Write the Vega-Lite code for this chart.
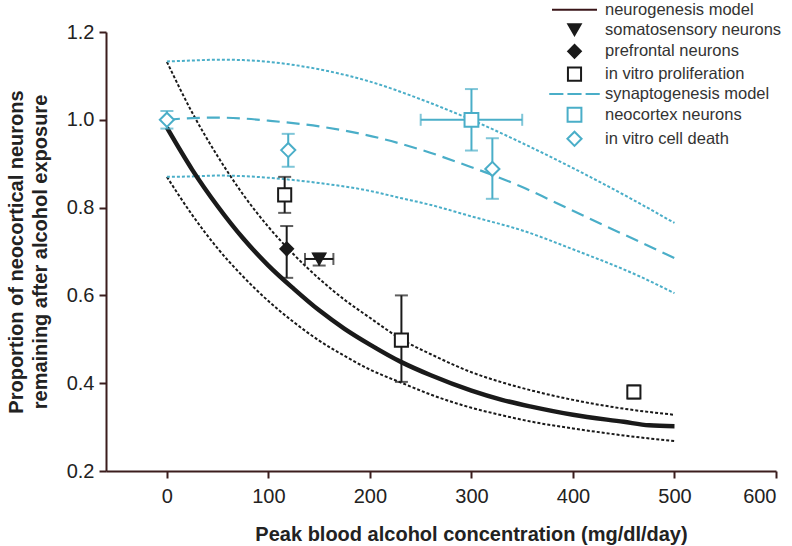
{
  "$schema": "https://vega.github.io/schema/vega-lite/v6.json",
  "width": 670,
  "height": 439,
  "autosize": {"type": "none"},
  "padding": {"left": 106, "top": 32, "right": 16, "bottom": 75},
  "background": "white",
  "config": {
    "view": {"stroke": null},
    "font": "Liberation Sans",
    "axis": {
      "grid": false,
      "domainColor": "#3b1d1d",
      "domainWidth": 2,
      "tickColor": "#3b1d1d",
      "tickWidth": 2,
      "tickSize": 7,
      "labelFont": "Liberation Sans",
      "labelFontSize": 20,
      "labelColor": "#222222",
      "titleFont": "Liberation Sans",
      "titleFontSize": 20,
      "titleFontWeight": "bold",
      "titleColor": "#222222"
    },
    "axisX": {"labelPadding": 8, "titlePadding": 18, "titleX": 365},
    "axisY": {"labelPadding": 5, "titlePadding": 16, "titleLineHeight": 24},
    "legend": {
      "padding": 0,
      "labelFont": "Liberation Sans",
      "labelFontSize": 16.5,
      "labelColor": "#333333",
      "labelOffset": 22,
      "labelLimit": 400,
      "rowPadding": 0.8,
      "symbolStrokeWidth": 2
    }
  },
  "datasets": {
    "curves": [
      {"curve": "neurogenesis", "x": 0, "y": 0.982},
      {"curve": "neurogenesis", "x": 25, "y": 0.886},
      {"curve": "neurogenesis", "x": 50, "y": 0.803},
      {"curve": "neurogenesis", "x": 75, "y": 0.73},
      {"curve": "neurogenesis", "x": 100, "y": 0.668},
      {"curve": "neurogenesis", "x": 125, "y": 0.615},
      {"curve": "neurogenesis", "x": 150, "y": 0.566},
      {"curve": "neurogenesis", "x": 175, "y": 0.524},
      {"curve": "neurogenesis", "x": 200, "y": 0.488},
      {"curve": "neurogenesis", "x": 231, "y": 0.448},
      {"curve": "neurogenesis", "x": 260, "y": 0.418},
      {"curve": "neurogenesis", "x": 300, "y": 0.383},
      {"curve": "neurogenesis", "x": 330, "y": 0.362},
      {"curve": "neurogenesis", "x": 360, "y": 0.346},
      {"curve": "neurogenesis", "x": 400, "y": 0.328},
      {"curve": "neurogenesis", "x": 450, "y": 0.312},
      {"curve": "neurogenesis", "x": 475, "y": 0.304},
      {"curve": "neurogenesis", "x": 500, "y": 0.302},
      {"curve": "neurogenesis upper", "x": 0, "y": 1.132},
      {"curve": "neurogenesis upper", "x": 25, "y": 1.016},
      {"curve": "neurogenesis upper", "x": 50, "y": 0.917},
      {"curve": "neurogenesis upper", "x": 75, "y": 0.83},
      {"curve": "neurogenesis upper", "x": 100, "y": 0.756},
      {"curve": "neurogenesis upper", "x": 125, "y": 0.693},
      {"curve": "neurogenesis upper", "x": 150, "y": 0.638},
      {"curve": "neurogenesis upper", "x": 175, "y": 0.59},
      {"curve": "neurogenesis upper", "x": 200, "y": 0.549},
      {"curve": "neurogenesis upper", "x": 231, "y": 0.5},
      {"curve": "neurogenesis upper", "x": 260, "y": 0.466},
      {"curve": "neurogenesis upper", "x": 300, "y": 0.425},
      {"curve": "neurogenesis upper", "x": 330, "y": 0.402},
      {"curve": "neurogenesis upper", "x": 360, "y": 0.383},
      {"curve": "neurogenesis upper", "x": 400, "y": 0.362},
      {"curve": "neurogenesis upper", "x": 450, "y": 0.342},
      {"curve": "neurogenesis upper", "x": 500, "y": 0.328},
      {"curve": "neurogenesis lower", "x": 0, "y": 0.87},
      {"curve": "neurogenesis lower", "x": 25, "y": 0.783},
      {"curve": "neurogenesis lower", "x": 50, "y": 0.707},
      {"curve": "neurogenesis lower", "x": 75, "y": 0.643},
      {"curve": "neurogenesis lower", "x": 100, "y": 0.587},
      {"curve": "neurogenesis lower", "x": 125, "y": 0.539},
      {"curve": "neurogenesis lower", "x": 150, "y": 0.497},
      {"curve": "neurogenesis lower", "x": 175, "y": 0.462},
      {"curve": "neurogenesis lower", "x": 200, "y": 0.431},
      {"curve": "neurogenesis lower", "x": 231, "y": 0.401},
      {"curve": "neurogenesis lower", "x": 260, "y": 0.374},
      {"curve": "neurogenesis lower", "x": 300, "y": 0.344},
      {"curve": "neurogenesis lower", "x": 330, "y": 0.327},
      {"curve": "neurogenesis lower", "x": 360, "y": 0.312},
      {"curve": "neurogenesis lower", "x": 400, "y": 0.297},
      {"curve": "neurogenesis lower", "x": 450, "y": 0.281},
      {"curve": "neurogenesis lower", "x": 500, "y": 0.268},
      {"curve": "synaptogenesis", "x": 0, "y": 1.0},
      {"curve": "synaptogenesis", "x": 25, "y": 1.004},
      {"curve": "synaptogenesis", "x": 50, "y": 1.005},
      {"curve": "synaptogenesis", "x": 75, "y": 1.003},
      {"curve": "synaptogenesis", "x": 100, "y": 0.998},
      {"curve": "synaptogenesis", "x": 150, "y": 0.985},
      {"curve": "synaptogenesis", "x": 210, "y": 0.958},
      {"curve": "synaptogenesis", "x": 250, "y": 0.932},
      {"curve": "synaptogenesis", "x": 300, "y": 0.892},
      {"curve": "synaptogenesis", "x": 320, "y": 0.875},
      {"curve": "synaptogenesis", "x": 350, "y": 0.847},
      {"curve": "synaptogenesis", "x": 377, "y": 0.818},
      {"curve": "synaptogenesis", "x": 400, "y": 0.793},
      {"curve": "synaptogenesis", "x": 430, "y": 0.76},
      {"curve": "synaptogenesis", "x": 466, "y": 0.722},
      {"curve": "synaptogenesis", "x": 500, "y": 0.685},
      {"curve": "synaptogenesis upper", "x": 0, "y": 1.133},
      {"curve": "synaptogenesis upper", "x": 25, "y": 1.135},
      {"curve": "synaptogenesis upper", "x": 50, "y": 1.137},
      {"curve": "synaptogenesis upper", "x": 75, "y": 1.136},
      {"curve": "synaptogenesis upper", "x": 100, "y": 1.132},
      {"curve": "synaptogenesis upper", "x": 150, "y": 1.115},
      {"curve": "synaptogenesis upper", "x": 200, "y": 1.087},
      {"curve": "synaptogenesis upper", "x": 252, "y": 1.045},
      {"curve": "synaptogenesis upper", "x": 300, "y": 1.0},
      {"curve": "synaptogenesis upper", "x": 350, "y": 0.947},
      {"curve": "synaptogenesis upper", "x": 400, "y": 0.89},
      {"curve": "synaptogenesis upper", "x": 459, "y": 0.818},
      {"curve": "synaptogenesis upper", "x": 500, "y": 0.765},
      {"curve": "synaptogenesis lower", "x": 0, "y": 0.87},
      {"curve": "synaptogenesis lower", "x": 25, "y": 0.871},
      {"curve": "synaptogenesis lower", "x": 50, "y": 0.873},
      {"curve": "synaptogenesis lower", "x": 72, "y": 0.872},
      {"curve": "synaptogenesis lower", "x": 100, "y": 0.868},
      {"curve": "synaptogenesis lower", "x": 150, "y": 0.856},
      {"curve": "synaptogenesis lower", "x": 200, "y": 0.838},
      {"curve": "synaptogenesis lower", "x": 230, "y": 0.822},
      {"curve": "synaptogenesis lower", "x": 260, "y": 0.806},
      {"curve": "synaptogenesis lower", "x": 300, "y": 0.78},
      {"curve": "synaptogenesis lower", "x": 350, "y": 0.748},
      {"curve": "synaptogenesis lower", "x": 400, "y": 0.705},
      {"curve": "synaptogenesis lower", "x": 466, "y": 0.643},
      {"curve": "synaptogenesis lower", "x": 500, "y": 0.605}
    ],
    "pts": [
      {"series": "somatosensory neurons", "x": 150, "y": 0.683, "ylo": 0.668, "yhi": 0.695, "xlo": 136, "xhi": 164},
      {"series": "prefrontal neurons", "x": 118, "y": 0.706, "ylo": 0.64, "yhi": 0.758},
      {"series": "in vitro proliferation", "x": 116, "y": 0.829, "ylo": 0.788, "yhi": 0.87},
      {"series": "in vitro proliferation", "x": 231, "y": 0.498, "ylo": 0.403, "yhi": 0.6},
      {"series": "in vitro proliferation", "x": 460, "y": 0.38, "ylo": 0.365, "yhi": 0.395},
      {"series": "neocortex neurons", "x": 300, "y": 1.0, "ylo": 0.93, "yhi": 1.07, "xlo": 250, "xhi": 350},
      {"series": "in vitro cell death", "x": 0, "y": 1.0, "ylo": 0.98, "yhi": 1.02},
      {"series": "in vitro cell death", "x": 119.5, "y": 0.931, "ylo": 0.893, "yhi": 0.968},
      {"series": "in vitro cell death", "x": 320.6, "y": 0.888, "ylo": 0.82, "yhi": 0.958}
    ]
  },
  "layer": [
    {
      "data": {"name": "curves"},
      "transform": [{"filter": "datum.curve === 'neurogenesis upper' || datum.curve === 'neurogenesis lower'"}],
      "mark": {"type": "line", "color": "#1a1a1a", "strokeWidth": 2, "strokeDash": [3, 2], "interpolate": "monotone"},
      "encoding": {
        "x": {"field": "x", "type": "quantitative", "scale": {"domain": [-60, 600], "nice": false, "zero": false},
          "axis": {"values": [0, 100, 200, 300, 400, 500, 600]},
          "title": "Peak blood alcohol concentration (mg/dl/day)"},
        "y": {"field": "y", "type": "quantitative", "scale": {"domain": [0.2, 1.2], "nice": false, "zero": false},
          "axis": {"values": [0.2, 0.4, 0.6, 0.8, 1.0, 1.2], "format": ".1f"},
          "title": ["Proportion of neocortical neurons", "remaining after alcohol exposure"]},
        "detail": {"field": "curve"}
      }
    },
    {
      "data": {"name": "curves"},
      "transform": [{"filter": "datum.curve === 'synaptogenesis upper' || datum.curve === 'synaptogenesis lower'"}],
      "mark": {"type": "line", "color": "#4aaec8", "strokeWidth": 2, "strokeDash": [3, 2], "interpolate": "monotone"},
      "encoding": {
        "x": {"field": "x", "type": "quantitative", "scale": {"domain": [-60, 600], "nice": false, "zero": false},
          "axis": {"values": [0, 100, 200, 300, 400, 500, 600]},
          "title": "Peak blood alcohol concentration (mg/dl/day)"},
        "y": {"field": "y", "type": "quantitative", "scale": {"domain": [0.2, 1.2], "nice": false, "zero": false},
          "axis": {"values": [0.2, 0.4, 0.6, 0.8, 1.0, 1.2], "format": ".1f"},
          "title": ["Proportion of neocortical neurons", "remaining after alcohol exposure"]},
        "detail": {"field": "curve"}
      }
    },
    {
      "data": {"name": "curves"},
      "transform": [{"filter": "datum.curve === 'synaptogenesis'"}],
      "mark": {"type": "line", "color": "#4aaec8", "strokeWidth": 2.2, "strokeDash": [13, 7], "interpolate": "monotone"},
      "encoding": {
        "x": {"field": "x", "type": "quantitative", "scale": {"domain": [-60, 600], "nice": false, "zero": false},
          "axis": {"values": [0, 100, 200, 300, 400, 500, 600]},
          "title": "Peak blood alcohol concentration (mg/dl/day)"},
        "y": {"field": "y", "type": "quantitative", "scale": {"domain": [0.2, 1.2], "nice": false, "zero": false},
          "axis": {"values": [0.2, 0.4, 0.6, 0.8, 1.0, 1.2], "format": ".1f"},
          "title": ["Proportion of neocortical neurons", "remaining after alcohol exposure"]}
      }
    },
    {
      "data": {"name": "curves"},
      "transform": [{"filter": "datum.curve === 'neurogenesis'"}],
      "mark": {"type": "line", "color": "#1a1a1a", "strokeWidth": 4.5, "interpolate": "monotone"},
      "encoding": {
        "x": {"field": "x", "type": "quantitative", "scale": {"domain": [-60, 600], "nice": false, "zero": false},
          "axis": {"values": [0, 100, 200, 300, 400, 500, 600]},
          "title": "Peak blood alcohol concentration (mg/dl/day)"},
        "y": {"field": "y", "type": "quantitative", "scale": {"domain": [0.2, 1.2], "nice": false, "zero": false},
          "axis": {"values": [0.2, 0.4, 0.6, 0.8, 1.0, 1.2], "format": ".1f"},
          "title": ["Proportion of neocortical neurons", "remaining after alcohol exposure"]}
      }
    },
    {
      "data": {"name": "pts"},
      "transform": [{"filter": "isValid(datum.ylo)"}],
      "mark": {"type": "rule", "strokeWidth": 2},
      "encoding": {
        "x": {"field": "x", "type": "quantitative", "scale": {"domain": [-60, 600], "nice": false, "zero": false},
          "axis": {"values": [0, 100, 200, 300, 400, 500, 600]},
          "title": "Peak blood alcohol concentration (mg/dl/day)"},
        "y": {"field": "ylo", "type": "quantitative", "scale": {"domain": [0.2, 1.2], "nice": false, "zero": false},
          "axis": {"values": [0.2, 0.4, 0.6, 0.8, 1.0, 1.2], "format": ".1f"},
          "title": ["Proportion of neocortical neurons", "remaining after alcohol exposure"]},
        "y2": {"field": "yhi"},
        "color": {"field": "series", "type": "nominal", "legend": null,
          "scale": {"domain": ["in vitro cell death", "neocortex neurons", "in vitro proliferation", "prefrontal neurons", "somatosensory neurons"],
            "range": ["#4aaec8", "#4aaec8", "#1a1a1a", "#1a1a1a", "#1a1a1a"]}}
      }
    },
    {
      "data": {"name": "pts"},
      "transform": [{"filter": "isValid(datum.ylo)"}],
      "mark": {"type": "tick", "orient": "horizontal", "size": 13, "thickness": 2},
      "encoding": {
        "x": {"field": "x", "type": "quantitative", "scale": {"domain": [-60, 600], "nice": false, "zero": false},
          "axis": {"values": [0, 100, 200, 300, 400, 500, 600]},
          "title": "Peak blood alcohol concentration (mg/dl/day)"},
        "y": {"field": "ylo", "type": "quantitative", "scale": {"domain": [0.2, 1.2], "nice": false, "zero": false},
          "axis": {"values": [0.2, 0.4, 0.6, 0.8, 1.0, 1.2], "format": ".1f"},
          "title": ["Proportion of neocortical neurons", "remaining after alcohol exposure"]},
        "color": {"field": "series", "type": "nominal", "legend": null}
      }
    },
    {
      "data": {"name": "pts"},
      "transform": [{"filter": "isValid(datum.yhi)"}],
      "mark": {"type": "tick", "orient": "horizontal", "size": 13, "thickness": 2},
      "encoding": {
        "x": {"field": "x", "type": "quantitative", "scale": {"domain": [-60, 600], "nice": false, "zero": false},
          "axis": {"values": [0, 100, 200, 300, 400, 500, 600]},
          "title": "Peak blood alcohol concentration (mg/dl/day)"},
        "y": {"field": "yhi", "type": "quantitative", "scale": {"domain": [0.2, 1.2], "nice": false, "zero": false},
          "axis": {"values": [0.2, 0.4, 0.6, 0.8, 1.0, 1.2], "format": ".1f"},
          "title": ["Proportion of neocortical neurons", "remaining after alcohol exposure"]},
        "color": {"field": "series", "type": "nominal", "legend": null}
      }
    },
    {
      "data": {"name": "pts"},
      "transform": [{"filter": "isValid(datum.xlo)"}],
      "mark": {"type": "rule", "strokeWidth": 2},
      "encoding": {
        "x": {"field": "xlo", "type": "quantitative", "scale": {"domain": [-60, 600], "nice": false, "zero": false},
          "axis": {"values": [0, 100, 200, 300, 400, 500, 600]},
          "title": "Peak blood alcohol concentration (mg/dl/day)"},
        "x2": {"field": "xhi"},
        "y": {"field": "y", "type": "quantitative", "scale": {"domain": [0.2, 1.2], "nice": false, "zero": false},
          "axis": {"values": [0.2, 0.4, 0.6, 0.8, 1.0, 1.2], "format": ".1f"},
          "title": ["Proportion of neocortical neurons", "remaining after alcohol exposure"]},
        "color": {"field": "series", "type": "nominal", "legend": null}
      }
    },
    {
      "data": {"name": "pts"},
      "transform": [{"filter": "isValid(datum.xlo)"}],
      "mark": {"type": "tick", "orient": "vertical", "size": 12, "thickness": 2},
      "encoding": {
        "x": {"field": "xlo", "type": "quantitative", "scale": {"domain": [-60, 600], "nice": false, "zero": false},
          "axis": {"values": [0, 100, 200, 300, 400, 500, 600]},
          "title": "Peak blood alcohol concentration (mg/dl/day)"},
        "y": {"field": "y", "type": "quantitative", "scale": {"domain": [0.2, 1.2], "nice": false, "zero": false},
          "axis": {"values": [0.2, 0.4, 0.6, 0.8, 1.0, 1.2], "format": ".1f"},
          "title": ["Proportion of neocortical neurons", "remaining after alcohol exposure"]},
        "color": {"field": "series", "type": "nominal", "legend": null}
      }
    },
    {
      "data": {"name": "pts"},
      "transform": [{"filter": "isValid(datum.xhi)"}],
      "mark": {"type": "tick", "orient": "vertical", "size": 12, "thickness": 2},
      "encoding": {
        "x": {"field": "xhi", "type": "quantitative", "scale": {"domain": [-60, 600], "nice": false, "zero": false},
          "axis": {"values": [0, 100, 200, 300, 400, 500, 600]},
          "title": "Peak blood alcohol concentration (mg/dl/day)"},
        "y": {"field": "y", "type": "quantitative", "scale": {"domain": [0.2, 1.2], "nice": false, "zero": false},
          "axis": {"values": [0.2, 0.4, 0.6, 0.8, 1.0, 1.2], "format": ".1f"},
          "title": ["Proportion of neocortical neurons", "remaining after alcohol exposure"]},
        "color": {"field": "series", "type": "nominal", "legend": null}
      }
    },
    {
      "data": {"name": "pts"},
      "mark": {"type": "point", "opacity": 1, "strokeWidth": 2},
      "encoding": {
        "x": {"field": "x", "type": "quantitative", "scale": {"domain": [-60, 600], "nice": false, "zero": false},
          "axis": {"values": [0, 100, 200, 300, 400, 500, 600]},
          "title": "Peak blood alcohol concentration (mg/dl/day)"},
        "y": {"field": "y", "type": "quantitative", "scale": {"domain": [0.2, 1.2], "nice": false, "zero": false},
          "axis": {"values": [0.2, 0.4, 0.6, 0.8, 1.0, 1.2], "format": ".1f"},
          "title": ["Proportion of neocortical neurons", "remaining after alcohol exposure"]},
        "shape": {"field": "series", "type": "nominal",
          "legend": {"title": null, "orient": "none", "legendX": 460, "legendY": -30.5},
          "scale": {"domain": ["neurogenesis model", "somatosensory neurons", "prefrontal neurons", "in vitro proliferation", "synaptogenesis model", "neocortex neurons", "in vitro cell death"],
            "range": ["M-3.75,0H3.75", "triangle-down", "diamond", "square", "M-3.75,0H-1.65M-1.05,0H1.05M1.65,0H3.75", "square", "diamond"]}},
        "stroke": {"field": "series", "type": "nominal",
          "legend": {"title": null, "orient": "none", "legendX": 460, "legendY": -30.5},
          "scale": {"domain": ["neurogenesis model", "somatosensory neurons", "prefrontal neurons", "in vitro proliferation", "synaptogenesis model", "neocortex neurons", "in vitro cell death"],
            "range": ["#3a1518", "#1a1a1a", "#1a1a1a", "#1a1a1a", "#4aaec8", "#4aaec8", "#4aaec8"]}},
        "fill": {"field": "series", "type": "nominal",
          "legend": {"title": null, "orient": "none", "legendX": 460, "legendY": -30.5},
          "scale": {"domain": ["neurogenesis model", "somatosensory neurons", "prefrontal neurons", "in vitro proliferation", "synaptogenesis model", "neocortex neurons", "in vitro cell death"],
            "range": ["transparent", "#1a1a1a", "#1a1a1a", "#ffffff", "transparent", "#ffffff", "#ffffff"]}},
        "size": {"field": "series", "type": "nominal",
          "legend": {"title": null, "orient": "none", "legendX": 460, "legendY": -30.5},
          "scale": {"domain": ["neurogenesis model", "somatosensory neurons", "prefrontal neurons", "in vitro proliferation", "synaptogenesis model", "neocortex neurons", "in vitro cell death"],
            "range": [144, 200, 200, 140, 144, 140, 260]}}
      }
    }
  ]
}
